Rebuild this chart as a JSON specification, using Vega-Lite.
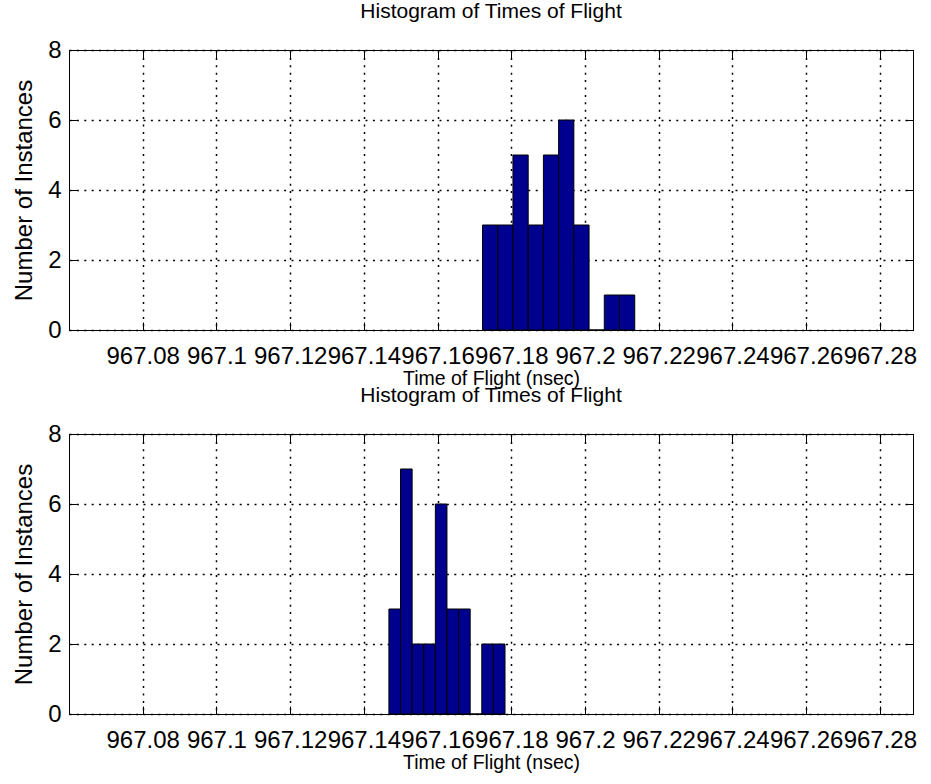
{
  "$schema": "https://vega.github.io/schema/vega-lite/v6.json",
  "padding": {"left": 11, "top": 0, "right": 5, "bottom": 5},
  "background": "white",
  "bounds": "flush",
  "spacing": 104,
  "config": {
    "font": "Liberation Sans",
    "view": {"stroke": "black", "strokeWidth": 1},
    "axis": {
      "labelFont": "Liberation Sans",
      "titleFont": "Liberation Sans",
      "labelColor": "black",
      "titleColor": "black",
      "domainColor": "black",
      "tickColor": "black",
      "titleFontWeight": "normal",
      "labelFontWeight": "normal"
    },
    "title": {"font": "Liberation Sans", "fontWeight": "normal", "color": "black"}
  },
  "datasets": {
    "first_run": [
      {"bin_start": 967.1722, "bin_end": 967.17633, "count": 3},
      {"bin_start": 967.17633, "bin_end": 967.18046, "count": 3},
      {"bin_start": 967.18046, "bin_end": 967.18459, "count": 5},
      {"bin_start": 967.18459, "bin_end": 967.18872, "count": 3},
      {"bin_start": 967.18872, "bin_end": 967.19285, "count": 5},
      {"bin_start": 967.19285, "bin_end": 967.19698, "count": 6},
      {"bin_start": 967.19698, "bin_end": 967.20111, "count": 3},
      {"bin_start": 967.20111, "bin_end": 967.20524, "count": 0},
      {"bin_start": 967.20524, "bin_end": 967.20937, "count": 1},
      {"bin_start": 967.20937, "bin_end": 967.2135, "count": 1}
    ],
    "second_run": [
      {"bin_start": 967.1468, "bin_end": 967.14995, "count": 3},
      {"bin_start": 967.14995, "bin_end": 967.1531, "count": 7},
      {"bin_start": 967.1531, "bin_end": 967.15625, "count": 2},
      {"bin_start": 967.15625, "bin_end": 967.1594, "count": 2},
      {"bin_start": 967.1594, "bin_end": 967.16255, "count": 6},
      {"bin_start": 967.16255, "bin_end": 967.1657, "count": 3},
      {"bin_start": 967.1657, "bin_end": 967.16885, "count": 3},
      {"bin_start": 967.16885, "bin_end": 967.172, "count": 0},
      {"bin_start": 967.172, "bin_end": 967.17515, "count": 2},
      {"bin_start": 967.17515, "bin_end": 967.1783, "count": 2}
    ]
  },
  "vconcat": [
    {
      "width": 844,
      "height": 280,
      "title": {"text": "Histogram of Times of Flight", "anchor": "middle", "frame": "group", "baseline": "alphabetic", "offset": -1, "fontSize": 21},
      "data": {"name": "first_run"},
      "layer": [
        {
          "mark": {"type": "bar", "orient": "vertical", "fill": "#00008f", "stroke": "black", "strokeWidth": 1},
          "encoding": {
            "x": {"field": "bin_start", "type": "quantitative",
              "scale": {"domain": [967.06, 967.289], "nice": false, "zero": false, "padding": 0},
              "axis": {"orient": "bottom", "values": [967.08, 967.1, 967.12, 967.14, 967.16, 967.18, 967.2, 967.22, 967.24, 967.26, 967.28],
                "format": ".2~f", "title": "Time of Flight (nsec)", "labelFontSize": 24, "labelOverlap": false, "labelFlush": false, "labelBound": false,
                "labelPadding": 22, "tickSize": -8, "grid": true, "gridColor": "black", "gridDash": [2, 5.4], "gridWidth": 1.5, "gridOpacity": 1,
                "titleFontSize": 19.5, "titleY": 54, "titleBaseline": "alphabetic"}},
            "x2": {"field": "bin_end"},
            "y": {"field": "count", "type": "quantitative",
              "scale": {"domain": [0, 8], "nice": false, "padding": 0},
              "axis": {"orient": "left", "values": [0, 2, 4, 6, 8], "title": "Number of Instances", "labelFontSize": 24, "labelPadding": 16, "tickSize": -8,
                "grid": true, "gridColor": "black", "gridDash": [2, 5.4], "gridWidth": 1.5, "gridOpacity": 1,
                "titleFontSize": 24, "titleX": -38, "titleY": 140, "titleAngle": -90, "titleAlign": "center", "titleBaseline": "alphabetic"}},
            "y2": {"datum": 0}
          }
        },
        {
          "mark": {"type": "bar", "orient": "vertical", "opacity": 0},
          "encoding": {
            "x": {"field": "bin_start", "type": "quantitative",
              "axis": {"orient": "top", "values": [967.08, 967.1, 967.12, 967.14, 967.16, 967.18, 967.2, 967.22, 967.24, 967.26, 967.28], "labels": false, "title": null, "grid": false, "tickSize": -8}},
            "x2": {"field": "bin_end"},
            "y": {"field": "count", "type": "quantitative",
              "axis": {"orient": "right", "values": [0, 2, 4, 6, 8], "labels": false, "title": null, "grid": false, "tickSize": -8}},
            "y2": {"datum": 0}
          }
        }
      ],
      "resolve": {"axis": {"x": "independent", "y": "independent"}}
    },
    {
      "width": 844,
      "height": 280,
      "title": {"text": "Histogram of Times of Flight", "anchor": "middle", "frame": "group", "baseline": "alphabetic", "offset": -1, "fontSize": 21},
      "data": {"name": "second_run"},
      "layer": [
        {
          "mark": {"type": "bar", "orient": "vertical", "fill": "#00008f", "stroke": "black", "strokeWidth": 1},
          "encoding": {
            "x": {"field": "bin_start", "type": "quantitative",
              "scale": {"domain": [967.06, 967.289], "nice": false, "zero": false, "padding": 0},
              "axis": {"orient": "bottom", "values": [967.08, 967.1, 967.12, 967.14, 967.16, 967.18, 967.2, 967.22, 967.24, 967.26, 967.28],
                "format": ".2~f", "title": "Time of Flight (nsec)", "labelFontSize": 24, "labelOverlap": false, "labelFlush": false, "labelBound": false,
                "labelPadding": 22, "tickSize": -8, "grid": true, "gridColor": "black", "gridDash": [2, 5.4], "gridWidth": 1.5, "gridOpacity": 1,
                "titleFontSize": 19.5, "titleY": 54, "titleBaseline": "alphabetic"}},
            "x2": {"field": "bin_end"},
            "y": {"field": "count", "type": "quantitative",
              "scale": {"domain": [0, 8], "nice": false, "padding": 0},
              "axis": {"orient": "left", "values": [0, 2, 4, 6, 8], "title": "Number of Instances", "labelFontSize": 24, "labelPadding": 16, "tickSize": -8,
                "grid": true, "gridColor": "black", "gridDash": [2, 5.4], "gridWidth": 1.5, "gridOpacity": 1,
                "titleFontSize": 24, "titleX": -38, "titleY": 140, "titleAngle": -90, "titleAlign": "center", "titleBaseline": "alphabetic"}},
            "y2": {"datum": 0}
          }
        },
        {
          "mark": {"type": "bar", "orient": "vertical", "opacity": 0},
          "encoding": {
            "x": {"field": "bin_start", "type": "quantitative",
              "axis": {"orient": "top", "values": [967.08, 967.1, 967.12, 967.14, 967.16, 967.18, 967.2, 967.22, 967.24, 967.26, 967.28], "labels": false, "title": null, "grid": false, "tickSize": -8}},
            "x2": {"field": "bin_end"},
            "y": {"field": "count", "type": "quantitative",
              "axis": {"orient": "right", "values": [0, 2, 4, 6, 8], "labels": false, "title": null, "grid": false, "tickSize": -8}},
            "y2": {"datum": 0}
          }
        }
      ],
      "resolve": {"axis": {"x": "independent", "y": "independent"}}
    }
  ]
}
